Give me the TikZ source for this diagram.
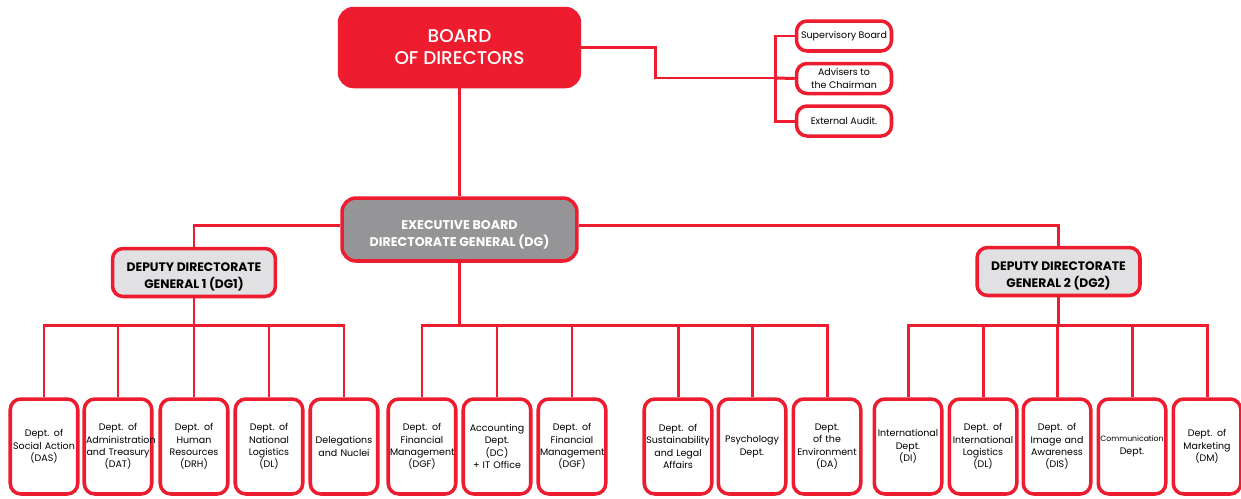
\documentclass[tikz,border=0pt]{standalone}
\usepackage{fontspec}
\setmainfont{Poppins}
\newfontfamily\mediumfont{Poppins Medium}
\usetikzlibrary{positioning}
\definecolor{orgred}{HTML}{ED1C2E}
\definecolor{execgray}{HTML}{959597}
\definecolor{deputygray}{HTML}{E1E1E3}

\begin{document}
\begin{tikzpicture}[
    x=0.02cm, y=-0.02cm,
    node distance=1.8mm,
    every node/.style={font=\fontsize{5.4}{7.1}\selectfont},
    link/.style  ={draw=orgred, line width=1.7pt},
    box/.style   ={draw=orgred, line width=2pt, rounded corners=6pt, align=center, inner sep=1pt},
    dept/.style  ={box, fill=white, minimum width=1.3cm, minimum height=1.9cm, text width=1.28cm},
    side/.style  ={box, fill=white, minimum width=1.9cm, minimum height=0.6cm},
    deputy/.style={box, fill=deputygray, minimum width=3.26cm, minimum height=0.96cm, font=\bfseries\fontsize{7}{10}\selectfont},
    chief/.style ={box, rounded corners=8pt, text=white, font=\bfseries\fontsize{7.2}{10}\selectfont}
]
\useasboundingbox (0,0) rectangle (1241,498);

% Board and its advisory bodies
\node[chief, fill=orgred, minimum width=4.8cm, minimum height=1.56cm,
      font=\mediumfont\fontsize{10.5}{12.5}\selectfont] (board) at (459.5,47.5) {BOARD\\OF DIRECTORS};
\node[side] (sup) at (844,36) {Supervisory Board};
\node[side, below=of sup] (adv) {Advisers to\\the Chairman};
\node[side, below=of adv] (audit) {External Audit.};

% Executive board and deputies
\node[chief, fill=execgray, minimum width=4.7cm, minimum height=1.26cm] (exec) at (459.5,229.5)
    {\rule{0pt}{11pt}EXECUTIVE BOARD\\DIRECTORATE GENERAL (DG)};
\node[deputy] (dg1) at (194,272.5) {\rule{0pt}{10pt}DEPUTY DIRECTORATE\\GENERAL 1 (DG1)};
\node[deputy] (dg2) at (1058.5,271.5) {\rule{0pt}{10pt}DEPUTY DIRECTORATE\\GENERAL 2 (DG2)};

% Departments under DG1
\node[dept] (das) at (44,446.5)  {Dept. of\\Social Action\\(DAS)};
\node[dept] (dat) at (118,446.5) {Dept. of\\Administration\\and Treasury\\(DAT)};
\node[dept] (drh) at (194,446.5) {Dept. of\\Human\\Resources\\(DRH)};
\node[dept] (dl)  at (269,446.5) {Dept. of\\National\\Logistics\\(DL)};
\node[dept] (dn)  at (344,446.5) {Delegations\\and Nuclei};

% Departments under DG
\node[dept] (dgfa) at (422,446.5) {Dept. of\\Financial\\Management\\(DGF)};
\node[dept] (dc)   at (497,446.5) {Accounting\\Dept.\\(DC)\\+ IT Office};
\node[dept] (dgfb) at (572,446.5) {Dept. of\\Financial\\Management\\(DGF)};
\node[dept] (dsl)  at (678,446.5) {Dept. of\\Sustainability\\and Legal\\Affairs};
\node[dept] (dp)   at (752,446.5) {Psychology\\Dept.};
\node[dept] (da)   at (827,446.5) {Dept.\\of the\\Environment\\(DA)};

% Departments under DG2
\node[dept] (di)  at (908,446.5)  {International\\Dept.\\(DI)};
\node[dept] (dil) at (983,446.5)  {Dept. of\\International\\Logistics\\(DL)};
\node[dept] (dis) at (1057,446.5) {Dept. of\\Image and\\Awareness\\(DIS)};
\node[dept] (dco) at (1132,446.5) {{\fontsize{4.4}{7.1}\selectfont Communication}\\Dept.};
\node[dept] (dm)  at (1207,446.5) {Dept. of\\Marketing\\(DM)};

% Connectors
\coordinate (fork) at (775,78);
\coordinate (jog)  at (655,78);
\draw[link] (board.east) -| (jog) -- (fork);
\draw[link] (sup.west) -| (fork) |- (audit.west);
\draw[link] (adv.west) -- (fork);
\draw[link] (board.south) -- (exec.north);
\draw[link] (exec.west |- 0,225) -| (dg1.north);
\draw[link] (exec.east |- 0,225) -| (dg2.north);

\draw[link] (das.north) |- (dn.north |- 0,325) -- (dn.north);
\draw[link] (dg1.south) -- (drh.north);
\foreach \n in {dat,dl}
    \draw[link] (\n.north) -- (\n.north |- 0,325);

\draw[link] (dgfa.north) |- (da.north |- 0,325) -- (da.north);
\draw[link] (exec.south) -- (exec.south |- 0,325);
\foreach \n in {dc,dgfb,dsl,dp}
    \draw[link] (\n.north) -- (\n.north |- 0,325);

\draw[link] (di.north) |- (dm.north |- 0,325) -- (dm.north);
\draw[link] (dg2.south) -- (dg2.south |- 0,325);
\foreach \n in {dil,dis,dco}
    \draw[link] (\n.north) -- (\n.north |- 0,325);
\end{tikzpicture}
\end{document}
